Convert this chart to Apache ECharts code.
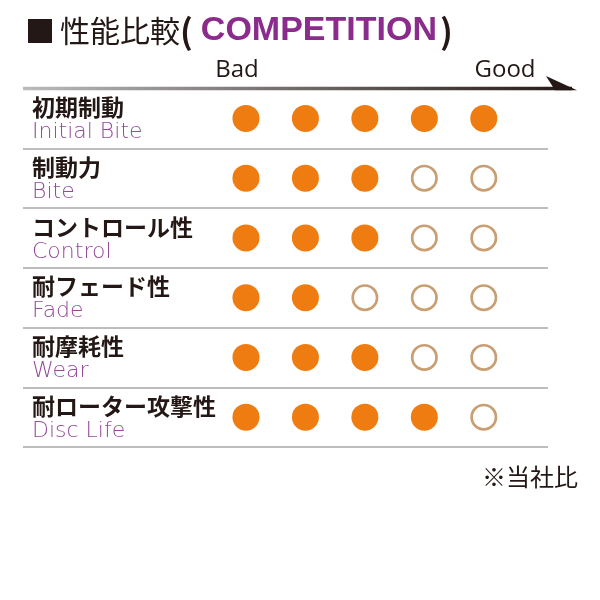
<!DOCTYPE html>
<html>
<head>
<meta charset="utf-8">
<script src="https://cdn.jsdelivr.net/npm/echarts@6/dist/echarts.min.js"></script>
<style>
  html, body { margin: 0; padding: 0; background: #fff; }
  #chart { width: 600px; height: 600px; }
</style>
</head>
<body>
<div id="chart"></div>
<script>
// 項目名（日本語 / 英語）
var itemsJp = ['初期制動', '制動力', 'コントロール性', '耐フェード性', '耐摩耗性', '耐ローター攻撃性'];
var itemsEn = ['Initial Bite', 'Bite', 'Control', 'Fade', 'Wear', 'Disc Life'];
// 評価（5段階）
var scores = [5, 3, 3, 2, 3, 4];
var levels = [1, 2, 3, 4, 5];
var scaleLabels = ['Bad', 'Good'];

var filledPts = [];
var emptyPts = [];
for (var i = 0; i < itemsJp.length; i++) {
    for (var j = 0; j < levels.length; j++) {
        if (levels[j] <= scores[i]) {
            filledPts.push([levels[j], itemsJp[i]]);
        } else {
            emptyPts.push([levels[j], itemsJp[i]]);
        }
    }
}

var myChart = echarts.init(document.getElementById('chart'));
var option = {
    backgroundColor: '#fff',
    animation: false,
    title: {
        left: 20,
        top: 9,
        text: '{sq|■} {jp|性能比較}{p|(}{en|COMPETITION}{p|)}',
        textStyle: {
            fontWeight: 'normal',
            rich: {
                sq: { fontSize: 30, color: '#231815', fontWeight: 'normal', fontFamily: 'Noto Sans CJK JP' },
                jp: { fontSize: 30, color: '#231815', fontWeight: 'normal', fontFamily: 'Noto Sans CJK JP' },
                p: { fontSize: 34, color: '#231815', fontWeight: 'bold', fontFamily: 'Noto Sans CJK JP' },
                en: { fontSize: 34, color: '#8b2c8c', fontWeight: 'bold', fontFamily: 'Liberation Sans', padding: [0, 3, 0, 8] }
            }
        }
    },
    grid: {
        left: 23,
        right: 52,
        top: 88.5,
        bottom: 153
    },
    xAxis: {
        type: 'value',
        min: -2.75,
        max: 6.08,
        show: false
    },
    yAxis: {
        type: 'category',
        inverse: true,
        data: itemsJp,
        axisLine: { show: false },
        axisTick: { show: false },
        splitLine: {
            show: true,
            interval: 0,
            lineStyle: { color: '#bdbdbd', width: 2.2 }
        },
        axisLabel: {
            inside: true,
            margin: 9,
            interval: 0,
            formatter: function (value, idx) {
                return '{jp|' + value + '}\n{en|' + itemsEn[idx] + '}';
            },
            rich: {
                jp: { fontSize: 23, fontWeight: 'bold', color: '#231815', fontFamily: 'Noto Sans CJK JP', lineHeight: 28 },
                en: { fontSize: 22, color: '#944a99', fontFamily: 'DejaVu Sans', fontWeight: 300, lineHeight: 22 }
            }
        }
    },
    graphic: [
        {
            type: 'line',
            z: 100,
            shape: { x1: 23, y1: 88.5, x2: 572, y2: 88.5 },
            style: {
                lineWidth: 3.5,
                stroke: new echarts.graphic.LinearGradient(0, 0, 1, 0, [
                    { offset: 0, color: '#bcbcbc' },
                    { offset: 1, color: '#231815' }
                ], false)
            }
        },
        {
            type: 'polygon',
            z: 100,
            shape: { points: [[546, 76], [577, 90.3], [555, 90.3]] },
            style: { fill: '#231815' }
        },
        {
            type: 'text',
            z: 100,
            x: 237,
            y: 70,
            style: { text: scaleLabels[0], fill: '#231815', font: '24px "Open Sans"', align: 'center', verticalAlign: 'middle' }
        },
        {
            type: 'text',
            z: 100,
            x: 505,
            y: 70,
            style: { text: scaleLabels[1], fill: '#231815', font: '24px "Open Sans"', align: 'center', verticalAlign: 'middle' }
        },
        {
            type: 'text',
            z: 100,
            right: 22,
            top: 465,
            style: { text: '※当社比', fill: '#231815', font: '24px "Noto Sans CJK JP"' }
        }
    ],
    series: [
        {
            type: 'scatter',
            data: filledPts,
            symbol: 'circle',
            symbolSize: 27,
            itemStyle: { color: '#ef7c10', opacity: 1 }
        },
        {
            type: 'scatter',
            data: emptyPts,
            symbol: 'circle',
            symbolSize: 24.3,
            itemStyle: { color: '#fff', borderColor: '#c89e72', borderWidth: 2.7, opacity: 1 }
        }
    ]
};
myChart.setOption(option);
</script>
</body>
</html>
